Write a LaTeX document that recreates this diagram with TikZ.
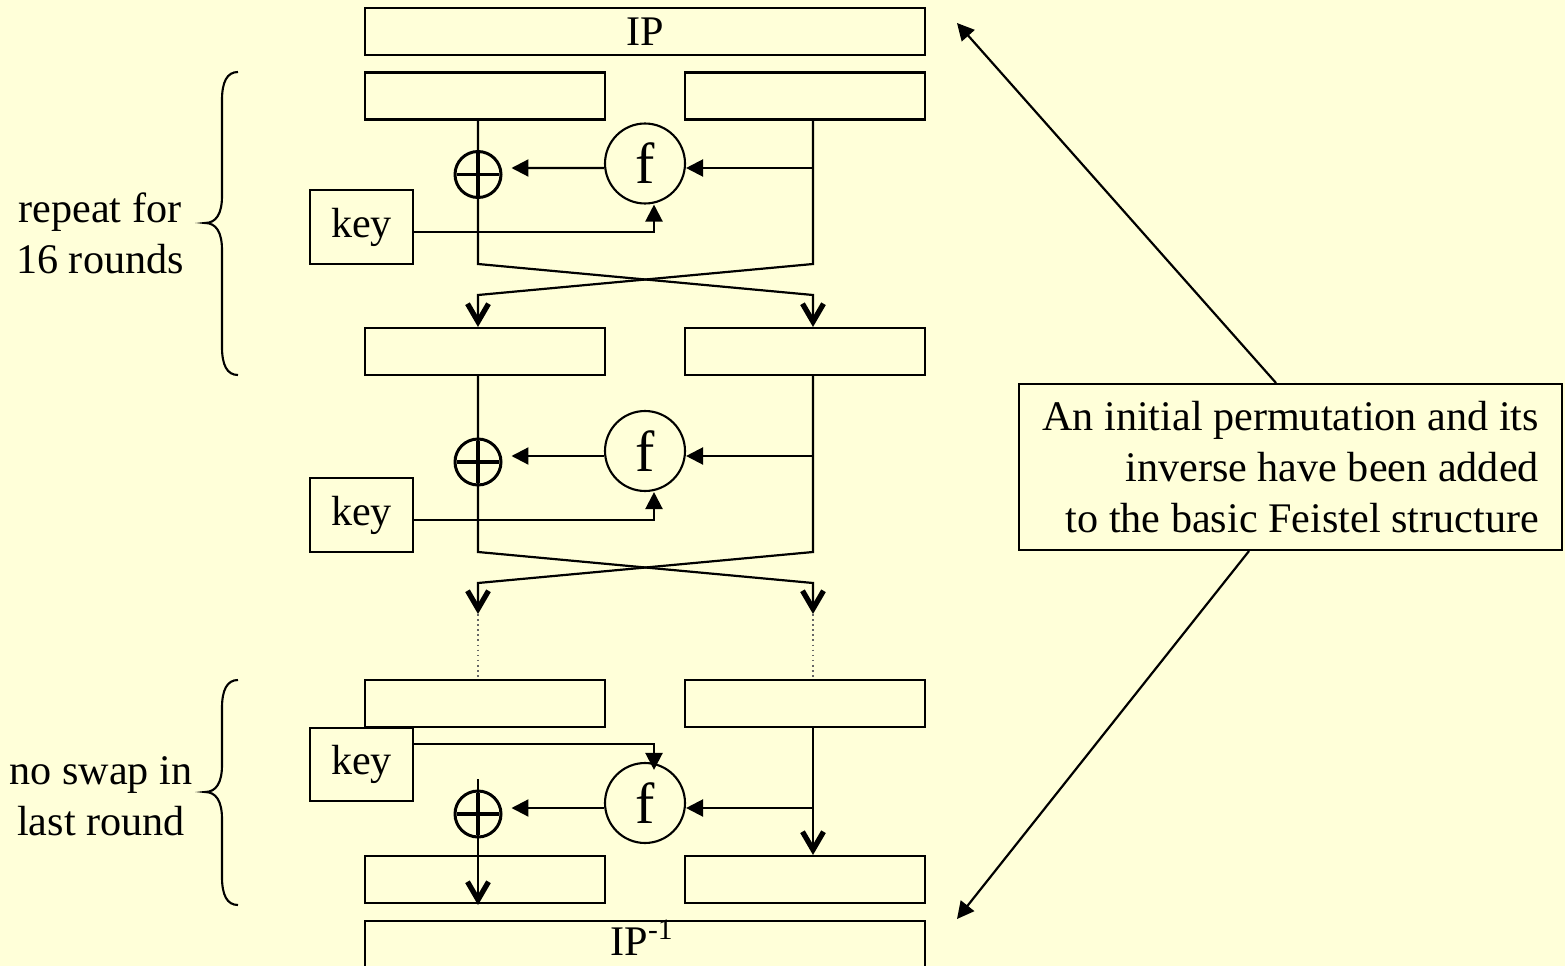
\documentclass[tikz,border=0pt]{standalone}
\usepackage{fontspec}
\setmainfont{Liberation Serif}
\usetikzlibrary{arrows.meta,calc}
\definecolor{paper}{HTML}{FFFFD9}
\tikzset{
  box/.style={draw, line width=1.2pt, inner sep=0pt, fill=paper},
  half/.style={box, minimum width=4.8cm, minimum height=0.94cm},
  keybox/.style={box, minimum width=2.06cm, minimum height=1.47cm},
  fbox/.style={draw, circle, line width=1.2pt, minimum size=1.6cm, inner sep=0pt,
    font=\fontsize{33}{36}\selectfont},
  xorbox/.style={draw, circle, line width=1.7pt, minimum size=0.92cm, inner sep=0pt},
  xorbar/.style={line width=2.2pt},
  wire/.style={line width=1.25pt},
  tri/.style={wire, -{Triangle[length=0.34cm, width=0.34cm]}},
  vee/.style={wire, -{Straight Barb[length=0.36cm, width=0.42cm, line width=3pt]}},
  dots/.style={line width=0.9pt, dotted, gray!80!black},
  lbl/.style={align=center},
  brace/.style={line width=1.2pt},
}
\begin{document}
\begin{tikzpicture}[x=0.02cm, y=-0.02cm, font=\fontsize{24}{29}\selectfont]
\fill[paper] (0,0) rectangle (1565,966);
\useasboundingbox (0,0) rectangle (1565,966);

% ---------- initial permutation ----------
\node[box, minimum width=11.2cm, minimum height=0.94cm] (IP) at (645,31.5) {IP};

% ---------- round 1 ----------
\node[half] (L1) at (485,96) {};
\node[half] (R1) at (805,96) {};
\node[fbox] (f1) at (645,163.5) {f};
\node[xorbox] (x1) at (478,174.5) {};
\node[keybox] (k1) at (361.5,227) {key};

% ---------- round 2 ----------
\node[half] (L2) at (485,351.5) {};
\node[half] (R2) at (805,351.5) {};
\node[fbox] (f2) at (645,451) {f};
\node[xorbox] (x2) at (478,462) {};
\node[keybox] (k2) at (361.5,515) {key};

% ---------- last round ----------
\node[half] (L3) at (485,703.5) {};
\node[half] (R3) at (805,703.5) {};
\node[keybox] (k3) at (361.5,764.5) {key};
\node[fbox] (f3) at (645,803) {f};
\node[xorbox] (x3) at (478,814) {};
\node[half] (L4) at (485,879.5) {};
\node[half] (R4) at (805,879.5) {};

% ---------- inverse permutation ----------
\node[box, minimum width=11.2cm, minimum height=1.6cm, anchor=north] (IPi) at (645,920) {};
\node (IPit) at (642,938) {IP\textsuperscript{-1}};

% ---------- note ----------
\node[box, minimum width=10.86cm, minimum height=3.32cm, align=right] (note) at (1290.5,467)
  {An initial permutation and its\\ inverse have been added\\ to the basic Feistel structure};

% ---------- side labels ----------
\node[lbl] (rep) at (100,233) {repeat for\\16 rounds};
\node[lbl] (noswap) at (101,796) {no swap in\\last round};

% ---------- xor crosses ----------
\foreach \n in {x1,x2,x3}
  \draw[xorbar] ($(\n.west)+(3,0)$) -- ($(\n.east)+(-3,0)$)
                ($(\n.north)+(0,3)$) -- ($(\n.south)+(0,-3)$);

% ---------- wiring, round 1 ----------
\coordinate (a1) at (813,168);
\coordinate (kc1) at (654,232);
\coordinate (s1l) at (478,264);
\coordinate (s1r) at (813,264);
\coordinate (e1l) at (478,295);
\coordinate (e1r) at (813,295);
\draw[tri] (a1) -- (a1 -| f1.east);
\draw[tri] ($(f1.west)+(0,4.5)$) -- ($(x1.east |- a1)+(9,0)$);
\draw[tri] (k1.east |- kc1) -- (kc1) -- (kc1 |- f1.south);
\draw[vee] (L1.south -| s1l) -- (s1l) -- (e1r) -- (R2.north -| e1r);
\draw[vee] (R1.south -| s1r) -- (s1r) -- (e1l) -- (L2.north -| e1l);

% ---------- wiring, round 2 ----------
\coordinate (a2) at (813,456);
\coordinate (kc2) at (654,520);
\coordinate (s2l) at (478,552);
\coordinate (s2r) at (813,552);
\coordinate (e2l) at (478,583);
\coordinate (e2r) at (813,583);
\coordinate (t2l) at (478,614);
\coordinate (t2r) at (813,614);
\draw[tri] (a2) -- (a2 -| f2.east);
\draw[tri] ($(f2.west)+(0,5)$) -- ($(x2.east |- a2)+(9,0)$);
\draw[tri] (k2.east |- kc2) -- (kc2) -- (kc2 |- f2.south);
\draw[vee] (L2.south -| s2l) -- (s2l) -- (e2r) -- (t2r);
\draw[vee] (R2.south -| s2r) -- (s2r) -- (e2l) -- (t2l);
\draw[dots] (t2l) -- (L3.north -| t2l);
\draw[dots] (t2r) -- (R3.north -| t2r);

% ---------- wiring, last round ----------
\coordinate (a3) at (813,808);
\coordinate (kc3) at (654,744);
\coordinate (b3) at (478,779);
\coordinate (t3) at (478,905);
\draw[tri] (k3.east |- kc3) -- (kc3) -- ($(kc3 |- f3.north)+(0,8)$);
\draw[wire] (R3.south -| a3) -- (a3);
\draw[vee] (a3) -- (R4.north -| a3);
\draw[tri] (a3) -- (a3 -| f3.east);
\draw[tri] ($(f3.west)+(0,5)$) -- ($(x3.east |- a3)+(9,0)$);
\draw[vee] (b3) -- (t3);

% ---------- note pointers ----------
\coordinate (pIP) at (957,23);
\coordinate (pIPi) at (957,919);
\draw[tri] ($(note.north west)+(258,0)$) -- (pIP);
\draw[tri] ($(note.south west)+(231,0)$) -- (pIPi);

% ---------- braces ----------
\draw[brace] (238,72) .. controls (227,72) and (222,82) .. (222,100) -- (222,196)
  .. controls (222,214) and (216,223) .. (205,223)
  .. controls (216,223) and (222,232) .. (222,250) -- (222,347)
  .. controls (222,365) and (227,375) .. (238,375);
\draw[brace] (238,680) .. controls (227,680) and (222,690) .. (222,708) -- (222,765)
  .. controls (222,783) and (216,792) .. (205,792)
  .. controls (216,792) and (222,801) .. (222,819) -- (222,877)
  .. controls (222,895) and (227,905) .. (238,905);
\end{tikzpicture}
\end{document}
